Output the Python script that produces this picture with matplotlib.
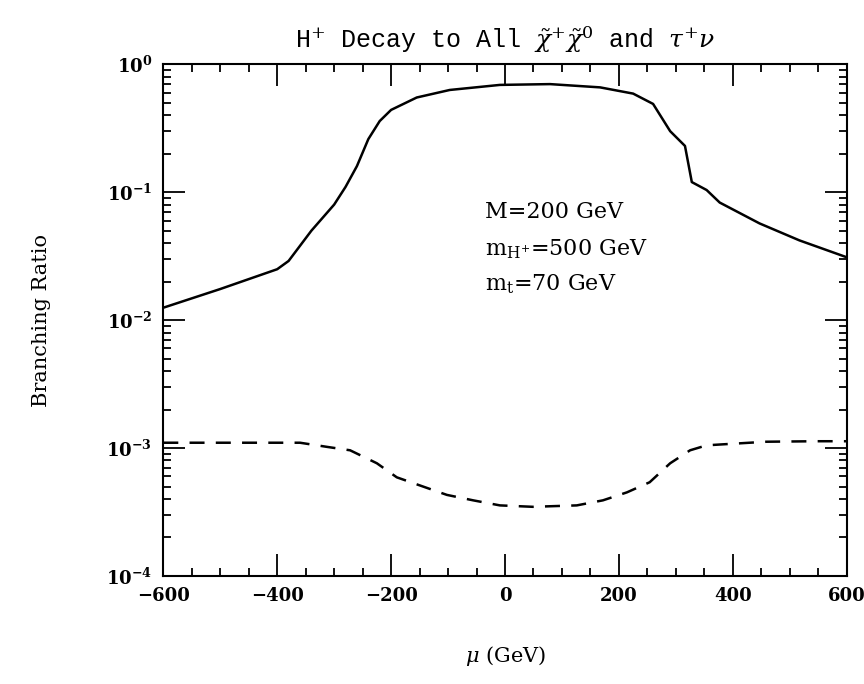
import numpy as np
import matplotlib
matplotlib.use('Agg')
import matplotlib.pyplot as plt
from matplotlib.ticker import MultipleLocator, LogLocator, NullFormatter

# mu (GeV) and branching ratio to all chargino+neutralino (solid)
mu_chi = [-600, -500, -400, -380, -340, -300, -280, -260, -240, -220, -200,
          -155, -97, -9, 79, 167, 225, 260, 290, 316, 328, 354, 377, 447, 517, 600]
br_chi = [0.0125, 0.0175, 0.025, 0.029, 0.05, 0.08, 0.11, 0.16, 0.26, 0.36, 0.44,
          0.55, 0.63, 0.69, 0.70, 0.66, 0.59, 0.49, 0.30, 0.23, 0.12, 0.104, 0.083,
          0.057, 0.042, 0.031]

# mu (GeV) and branching ratio to tau+ nu (dashed)
mu_tau = [-600, -500, -400, -360, -312, -272, -225, -190, -144, -102, -56, -9,
          49, 126, 172, 214, 254, 290, 325, 354, 459, 547, 600]
br_tau = [1.1e-3, 1.1e-3, 1.1e-3, 1.1e-3, 1.02e-3, 0.96e-3, 0.76e-3, 0.59e-3,
          0.50e-3, 0.43e-3, 0.39e-3, 0.356e-3, 0.347e-3, 0.356e-3, 0.39e-3,
          0.45e-3, 0.54e-3, 0.76e-3, 0.96e-3, 1.05e-3, 1.12e-3, 1.13e-3, 1.13e-3]

params = ['M=200 GeV', r'm$_{\rm H^{+}}$=500 GeV', r'm$_{\rm t}$=70 GeV']

plt.rcParams['font.family'] = ['DejaVu Serif']
plt.rcParams['mathtext.fontset'] = 'dejavuserif'

fig = plt.figure(figsize=(8.64, 6.84), dpi=100)
ax = fig.add_axes([0.189, 0.158, 0.791, 0.748])

ax.plot(mu_chi, br_chi, color='black', lw=1.8)
ax.plot(mu_tau, br_tau, color='black', lw=1.8, dashes=(6, 4.5))

ax.set_yscale('log')
ax.set_xlim(-600, 600)
ax.set_ylim(1e-4, 1)

ax.xaxis.set_major_locator(MultipleLocator(200))
ax.xaxis.set_minor_locator(MultipleLocator(50))
ax.yaxis.set_major_locator(LogLocator(base=10, numticks=10))
ax.yaxis.set_minor_locator(LogLocator(base=10, subs=np.arange(2, 10), numticks=10))
ax.yaxis.set_minor_formatter(NullFormatter())

ax.tick_params(which='both', direction='in', top=True, right=True, width=1.3,
               labelsize=13, pad=8)
ax.tick_params(which='major', length=16)
ax.tick_params(which='minor', length=6)
for lab in ax.get_xticklabels() + ax.get_yticklabels():
    lab.set_fontweight('bold')
for s in ax.spines.values():
    s.set_linewidth(1.5)

ax.set_title(r'H$^{+}$ Decay to All $\tilde{\chi}^{+}\tilde{\chi}^{0}$ and $\tau^{+}\nu$',
             fontsize=18, pad=12, family=['Liberation Mono', 'DejaVu Serif'])
ax.set_ylabel('Branching Ratio', fontsize=15, labelpad=40)
ax.set_xlabel(r'$\mu$ (GeV)', fontsize=15, labelpad=28)

ypos = [0.07, 0.036, 0.019]
for t, y in zip(params, ypos):
    ax.text(-35, y, t, fontsize=16, va='center', ha='left')

fig.savefig('out.png', dpi=100)
